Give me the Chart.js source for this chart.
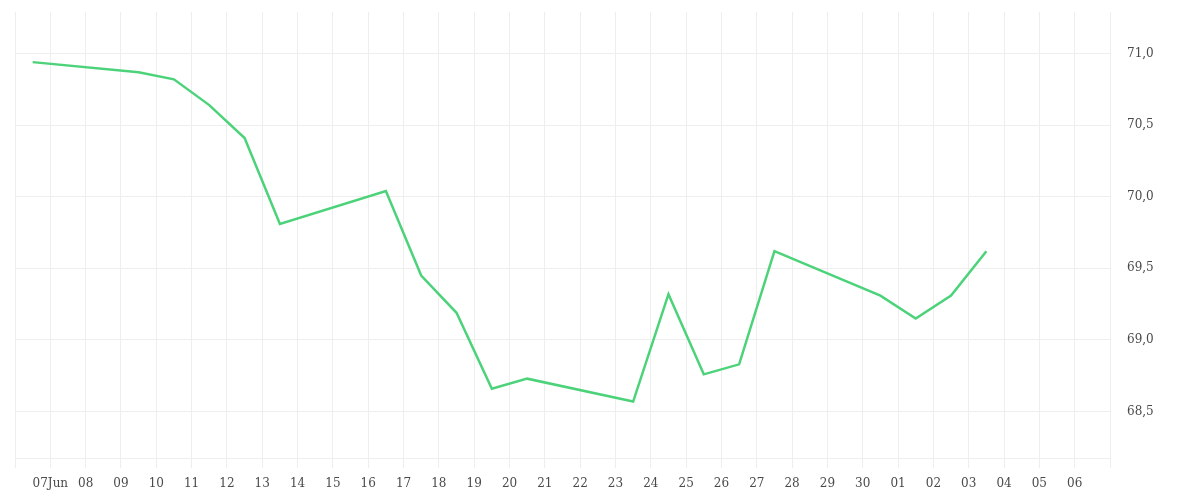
<!DOCTYPE html>
<html>
<head>
<meta charset="utf-8">
<script src="https://cdn.jsdelivr.net/npm/chart.js@4.4.1/dist/chart.umd.min.js"></script>
<style>
    html, body { margin: 0; padding: 0; background: #ffffff; }
    #wrap { width: 1200px; height: 500px; position: relative; }
</style>
</head>
<body>
<div id="wrap"><canvas id="rateChart"></canvas></div>
<script>
// axis starts at 06 Jun 2025 (tick 0) and ends at 07 Jul 2025 (tick 31)
const startDay = '2025-06-06';
const tickLabels = ['', '07Jun', '08', '09', '10', '11', '12', '13', '14', '15', '16', '17', '18', '19', '20', '21', '22',
    '23', '24', '25', '26', '27', '28', '29', '30', '01', '02', '03', '04', '05', '06', ''];

const dates = ['2025-06-06', '2025-06-09', '2025-06-10', '2025-06-11', '2025-06-12', '2025-06-13',
    '2025-06-16', '2025-06-17', '2025-06-18', '2025-06-19', '2025-06-20',
    '2025-06-23', '2025-06-24', '2025-06-25', '2025-06-26', '2025-06-27',
    '2025-06-30', '2025-07-01', '2025-07-02', '2025-07-03'];
const values = [70.94, 70.87, 70.82, 70.64, 70.41, 69.81,
    70.04, 69.45, 69.19, 68.66, 68.73,
    68.57, 69.32, 68.76, 68.83, 69.62,
    69.31, 69.15, 69.31, 69.62];

const yTicks = [68.5, 69.0, 69.5, 70.0, 70.5, 71.0];
const yTickLabels = ['68,5', '69,0', '69,5', '70,0', '70,5', '71,0'];

document.addEventListener('DOMContentLoaded', function () {
    const dayMs = 24 * 3600 * 1000;
    const t0 = Date.parse(startDay + 'T00:00:00Z');
    // points sit in the middle of their day
    const points = dates.map(function (d, i) {
        return { x: (Date.parse(d + 'T00:00:00Z') - t0) / dayMs + 0.5, y: values[i] };
    });

    const gridColor = '#eeeeee';
    const font = { family: "'DejaVu Serif', serif", size: 12 };

    new Chart(document.getElementById('rateChart'), {
        type: 'line',
        data: {
            datasets: [{
                data: points,
                borderColor: '#4cd37a',
                borderWidth: 2.5,
                pointRadius: 0,
                tension: 0,
                fill: false
            }]
        },
        options: {
            responsive: true,
            maintainAspectRatio: false,
            animation: false,
            layout: { padding: { left: 15, top: 12, right: 0, bottom: 0 } },
            plugins: { legend: { display: false }, tooltip: { enabled: false } },
            scales: {
                x: {
                    type: 'linear',
                    min: 0,
                    max: tickLabels.length - 1,
                    grid: { color: gridColor, tickLength: 10, drawTicks: true, tickColor: gridColor },
                    border: { color: gridColor },
                    ticks: {
                        stepSize: 1,
                        autoSkip: false,
                        maxRotation: 0,
                        padding: 9,
                        color: '#4a4a4a',
                        font: font,
                        callback: function (v) { return tickLabels[v]; }
                    },
                    afterFit: function (s) {
                        s.height = 42;
                        s.paddingLeft = 0;
                        s.paddingRight = 0;
                    }
                },
                y: {
                    position: 'right',
                    min: 68.176,
                    max: 71.29,
                    grid: { color: gridColor, drawTicks: false },
                    border: { color: gridColor },
                    ticks: {
                        stepSize: 0.5,
                        includeBounds: false,
                        padding: 17,
                        color: '#4a4a4a',
                        font: font,
                        callback: function (v) {
                            const i = yTicks.indexOf(Math.round(v * 10) / 10);
                            return i >= 0 ? yTickLabels[i] : '';
                        }
                    },
                    afterFit: function (s) {
                        s.width = 90;
                        s.paddingTop = 0;
                        s.paddingBottom = 0;
                    }
                }
            }
        }
    });
});
</script>
</body>
</html>
